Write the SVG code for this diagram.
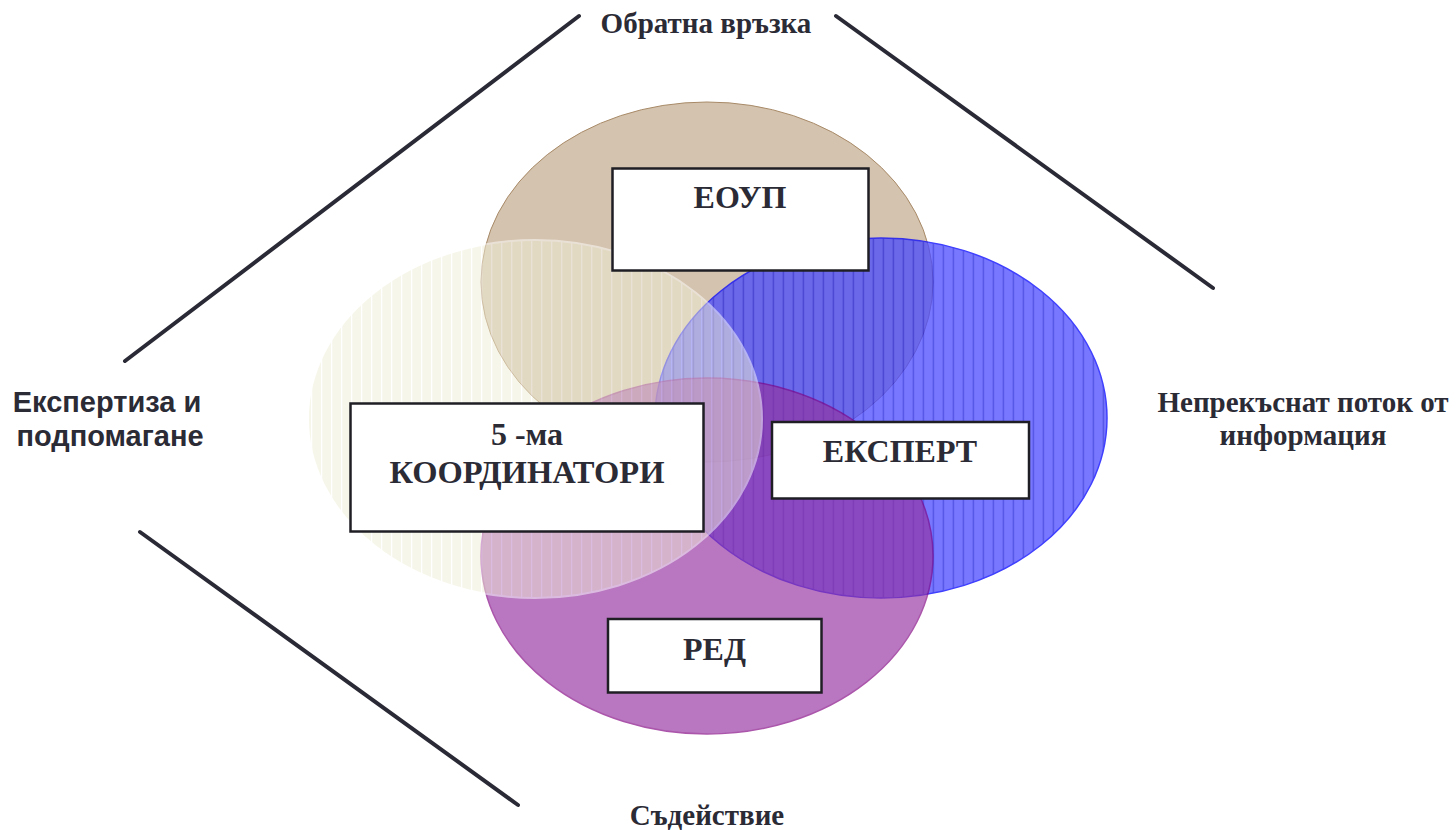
<svg xmlns="http://www.w3.org/2000/svg" width="1456" height="830" viewBox="0 0 1456 830">
  <style>
    .lbl { font-family: "Liberation Serif", "Times New Roman", serif; font-weight: bold; fill: #2b2b36; text-anchor: middle; }
    .lbls { font-family: "Liberation Sans", Arial, sans-serif; font-weight: bold; fill: #2b2b36; text-anchor: middle; }
    .box { fill: #ffffff; stroke: #1e1e24; stroke-width: 2.5; }
    .conn { stroke: #2a2a36; stroke-width: 4; stroke-linecap: round; fill: none; }
  </style>
  <defs>
    <pattern id="pBlue" patternUnits="userSpaceOnUse" width="10" height="10" x="2.7" y="0">
      <rect width="10" height="10" fill="#4a4aff"/>
      <line x1="0.5" y1="0" x2="0.5" y2="10" stroke="#1414d8" stroke-width="1.4"/>
    </pattern>
    <pattern id="pCream" patternUnits="userSpaceOnUse" width="10" height="10" x="1" y="0">
      <rect width="10" height="10" fill="#f1efd6"/>
      <line x1="0.5" y1="0" x2="0.5" y2="10" stroke="#ffffff" stroke-width="1.6"/>
    </pattern>
  </defs>

  <rect width="1456" height="830" fill="#ffffff"/>

  <g id="circle-tan">
    <ellipse cx="707" cy="282" rx="226" ry="180" fill="#c9b49a" fill-opacity="0.8" stroke="#a88a68" stroke-width="1"/>
  </g>
  <g id="circle-blue" opacity="0.75">
    <ellipse cx="881" cy="418" rx="226" ry="180" fill="url(#pBlue)" stroke="#0000ff" stroke-width="1.5"/>
  </g>
  <g id="circle-purple" opacity="0.66">
    <ellipse cx="707" cy="556" rx="226" ry="178" fill="#9432a0" stroke="#800080" stroke-width="1.5"/>
  </g>
  <g id="circle-cream" opacity="0.5">
    <ellipse cx="535" cy="419" rx="227" ry="179" fill="url(#pCream)" stroke="#ffffff" stroke-width="2"/>
  </g>

  <g id="connectors">
    <line class="conn" x1="125" y1="361" x2="579" y2="16"/>
    <line class="conn" x1="836" y1="16" x2="1213" y2="288"/>
    <line class="conn" x1="140" y1="532" x2="518" y2="805"/>
  </g>

  <g id="node-eoup">
    <rect class="box" x="612.5" y="168.5" width="256" height="102"/>
    <text class="lbl" x="740" y="208" font-size="32">ЕОУП</text>
  </g>
  <g id="node-koord">
    <rect class="box" x="350.5" y="403.5" width="353" height="128"/>
    <text class="lbl" x="527" y="445" font-size="32">5 -ма</text>
    <text class="lbl" x="527" y="483" font-size="32.5">КООРДИНАТОРИ</text>
  </g>
  <g id="node-expert">
    <rect class="box" x="772" y="422" width="257" height="76.5"/>
    <text class="lbl" x="900" y="462" font-size="32">ЕКСПЕРТ</text>
  </g>
  <g id="node-red">
    <rect class="box" x="608" y="619" width="213.5" height="73.5"/>
    <text class="lbl" x="714.5" y="660" font-size="32">РЕД</text>
  </g>

  <g id="label-top">
    <text class="lbl" x="706" y="33" font-size="29">Обратна връзка</text>
  </g>
  <g id="label-left">
    <text class="lbls" x="107" y="412" font-size="29">Експертиза и</text>
    <text class="lbls" x="110" y="446" font-size="29">подпомагане</text>
  </g>
  <g id="label-right">
    <text class="lbl" x="1303" y="412" font-size="29">Непрекъснат поток от</text>
    <text class="lbl" x="1303" y="445" font-size="29">информация</text>
  </g>
  <g id="label-bottom">
    <text class="lbl" x="707" y="825" font-size="29">Съдействие</text>
  </g>
</svg>
